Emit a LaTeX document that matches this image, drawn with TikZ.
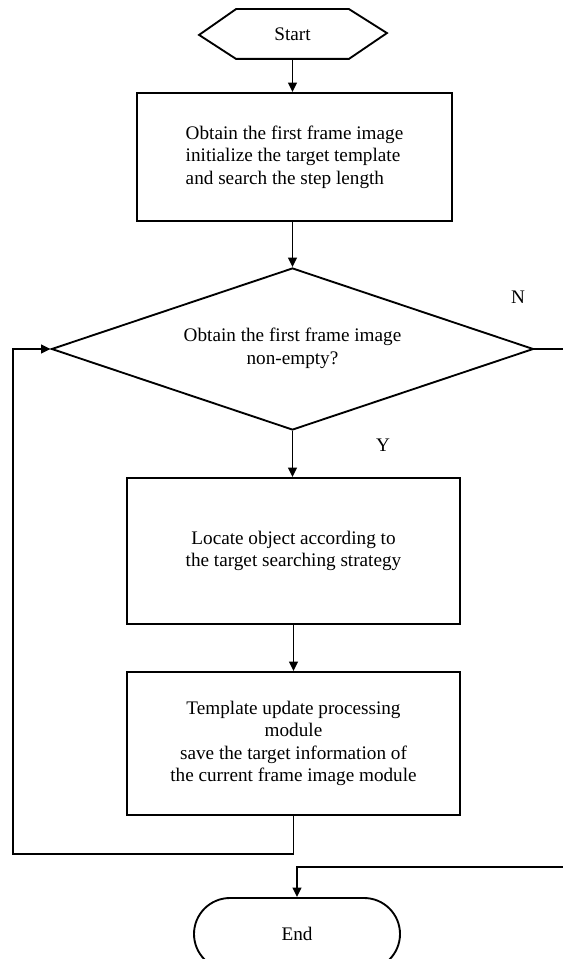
\documentclass[tikz,border=0pt]{standalone}
\usepackage{fontspec}
\setmainfont{Liberation Serif}
\usetikzlibrary{arrows.meta,shapes.geometric,shapes.misc}
\begin{document}
\begin{tikzpicture}[x=0.75pt,y=-0.75pt,
  line width=1.4pt,
  every node/.style={font=\fontsize{14.4}{16.9}\selectfont},
  boxnode/.style={draw,rectangle,inner sep=0pt},
  arr/.style={-{Triangle[length=7pt,width=6.5pt]}},
  lbl/.style={inner sep=0pt}]
\clip (0,0) rectangle (563,959);
% Start hexagon
\node[inner sep=0pt,minimum width=83.25pt,minimum height=36pt] (start) at (292.5,34) {Start};
\draw (start.north west) -- (start.north east) -- ++(38,24) -- (start.south east) -- (start.south west) -- ++(-37,-24) -- cycle;
% Box 1
\node[boxnode,minimum width=236.25pt,minimum height=96pt,align=left] (b1) at (294.5,157) {Obtain the first frame image\\initialize the target template\\and search the step length};
% Diamond
\node[draw,diamond,inner sep=0pt,minimum width=361.5pt,minimum height=121.5pt,align=center] (dia) at (292.5,349) {};
\node[align=center] (diat) at (292.5,348.5) {Obtain the first frame image\\non-empty?};
% Box 2
\node[boxnode,minimum width=249.75pt,minimum height=109.5pt,align=center] (b2) at (293.5,551) {Locate object according to\\the target searching strategy};
% Box 3
\node[boxnode,minimum width=249.75pt,minimum height=107.25pt,align=center] (b3) at (293.5,743.5) {Template update processing\\module\\save the target information of\\the current frame image module};
% End
\node[draw,rounded rectangle,inner sep=0pt,minimum width=154.5pt,minimum height=54pt] (end) at (297,934) {End};
% labels
\node[lbl] (N) at (518,297) {N};
\node[lbl] (Y) at (383,445) {Y};
% connectors
\draw[arr] (start.south) -- (start.south |- b1.north);
\draw[arr] (dia.north |- b1.south) -- (dia.north);
\draw[arr] (dia.south) -- (dia.south |- b2.north);
\draw[arr] (b2.south) -- (b3.north);
\coordinate (lb) at (13,854);
\draw[arr] (b3.south) |- (lb) |- (dia.west);
\coordinate (rn) at (580,349);
\coordinate (re) at (580,867);
\draw[arr] (dia.east) -- (rn) -- (re) -| (end.north);
\end{tikzpicture}
\end{document}
